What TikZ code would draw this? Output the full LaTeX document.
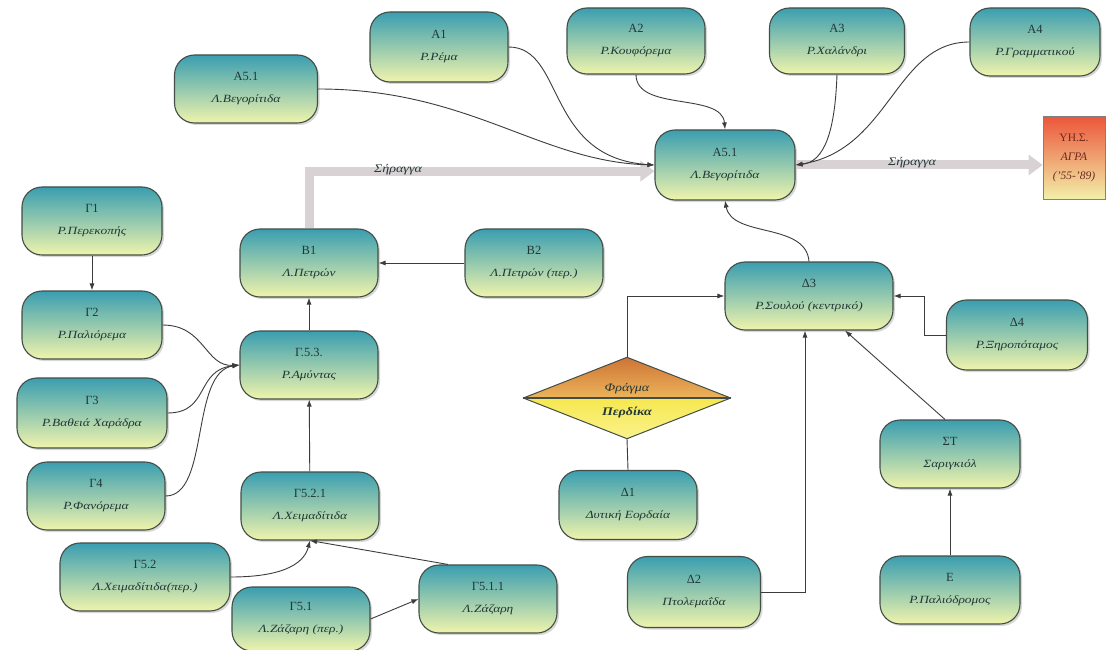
\documentclass[tikz,border=0pt]{standalone}
\usepackage{fontspec}
\setmainfont{Liberation Serif}
\newfontfamily\namefont[FakeStretch=1.22]{Liberation Serif}
\usetikzlibrary{arrows.meta,shapes.geometric,shadows,calc}
\definecolor{tealtop}{RGB}{58,158,176}
\definecolor{yelbot}{RGB}{240,244,172}
\definecolor{edge}{RGB}{66,78,70}
\definecolor{conn}{RGB}{60,60,60}
\definecolor{tunnel}{RGB}{216,210,212}
\definecolor{codec}{RGB}{34,56,54}
\definecolor{damtop}{RGB}{206,116,54}
\definecolor{dammid}{RGB}{236,180,90}
\definecolor{yeltop}{RGB}{246,232,80}
\definecolor{yelbot2}{RGB}{250,242,140}
\definecolor{redtop}{RGB}{236,86,58}
\definecolor{yhsbot}{RGB}{242,240,170}
\tikzset{
  box/.style={rounded corners=20pt, draw=edge, line width=1.1pt,
    top color=tealtop, bottom color=yelbot,
    minimum width=138pt, minimum height=68pt, inner sep=0pt, align=center,
    drop shadow={opacity=0.3, shadow xshift=2pt, shadow yshift=-2pt},
    font=\fontsize{12.5}{22}\selectfont, text=codec},
  link/.style={draw=conn, line width=0.9pt, -{Latex[length=7pt,width=5pt]}},
  plain/.style={draw=conn, line width=0.9pt},
  tunnelarrow/.style={draw=tunnel, line width=9pt, -{Triangle[length=14pt,width=20pt]}},
  tlabel/.style={font=\namefont\itshape\fontsize{11.5}{13}\selectfont, text=codec, inner sep=1pt},
  yhsbox/.style={rectangle, draw=gray, line width=0.8pt, top color=redtop, bottom color=yhsbot,
    minimum width=62pt, minimum height=83pt, inner sep=0pt, align=center,
    font=\fontsize{11.5}{19}\selectfont, text={rgb,255:red,110;green,40;blue,30}},
  damshape/.style={diamond, minimum width=207pt, minimum height=81pt, inner sep=0pt},
  damtext/.style={font=\namefont\itshape\fontsize{11.5}{13}\selectfont, text=codec, inner sep=0pt}
}
\newcommand{\lbl}[2]{#1\\{\namefont\itshape\fontsize{11}{13}\selectfont #2}}
\begin{document}
\begin{tikzpicture}[x=1pt,y=-1pt]
\useasboundingbox (0,0) rectangle (1117,650);
\fill[white] (0,0) rectangle (1117,650);

% tunnels (behind)
\node[box, minimum width=140pt, minimum height=70pt] (a51) at (725,165) {\lbl{Α5.1}{Λ.Βεγορίτιδα}};
\node[box] (b1) at (309,263) {\lbl{Β1}{Λ.Πετρών}};
\node[yhsbox] (yhs) at (1074,158) {ΥΗ.Σ.\\\textit{ΑΓΡΑ}\\\textit{('55-'89)}};
\draw[tunnelarrow] (b1.north) |- (a51.185);
\draw[tunnelarrow] (a51.east) -- (a51.east -| yhs.west);
\node[tlabel] (t1) at (398,170) {Σήραγγα};
\node[tlabel] (t2) at (912,163) {Σήραγγα};

% top row
\node[box, minimum width=143pt] (a51l) at (246,89) {\lbl{Α5.1}{Λ.Βεγορίτιδα}};
\node[box, minimum height=70pt] (a1) at (439,47) {\lbl{Α1}{Ρ.Ρέμα}};
\node[box, minimum height=66pt] (a2) at (636,41) {\lbl{Α2}{Ρ.Κουφόρεμα}};
\node[box, minimum width=135pt, minimum height=66pt] (a3) at (837,41) {\lbl{Α3}{Ρ.Χαλάνδρι}};
\node[box, minimum width=130pt] (a4) at (1035,42) {\lbl{Α4}{Ρ.Γραμματικού}};

% left column
\node[box, minimum width=140pt] (g1) at (92,221) {\lbl{Γ1}{Ρ.Περεκοπής}};
\node[box, minimum width=140pt] (g2) at (92,325) {\lbl{Γ2}{Ρ.Παλιόρεμα}};
\node[box, minimum width=150pt, minimum height=70pt] (g3) at (92,413) {\lbl{Γ3}{Ρ.Βαθειά Χαράδρα}};
\node[box] (g4) at (96,496) {\lbl{Γ4}{Ρ.Φανόρεμα}};

\node[box] (b2) at (534,263) {\lbl{Β2}{Λ.Πετρών (περ.)}};
\node[box] (g53) at (309,365) {\lbl{Γ.5.3.}{Ρ.Αμύντας}};
\node[box] (g521) at (310,506) {\lbl{Γ5.2.1}{Λ.Χειμαδίτιδα}};
\node[box, minimum width=170pt] (g52) at (145,577) {\lbl{Γ5.2}{Λ.Χειμαδίτιδα(περ.)}};
\node[box, minimum height=64pt] (g51) at (301,619) {\lbl{Γ5.1}{Λ.Ζάζαρη (περ.)}};
\node[box] (g511) at (488,599) {\lbl{Γ5.1.1}{Λ.Ζάζαρη}};

% right part
\node[box, minimum width=168pt] (d3) at (809,296) {\lbl{Δ3}{Ρ.Σουλού (κεντρικό)}};
\node[box, minimum width=141pt, minimum height=70pt] (d4) at (1017,335) {\lbl{Δ4}{Ρ.Ξηροπόταμος}};
\node[box, minimum height=69pt] (d1) at (628,505) {\lbl{Δ1}{Δυτική Εορδαία}};
\node[box, minimum width=133pt, minimum height=71pt] (d2) at (694,592) {\lbl{Δ2}{Πτολεμαΐδα}};
\node[box, minimum width=140pt] (st) at (950,454) {\lbl{ΣΤ}{Σαριγκιόλ}};
\node[box, minimum width=140pt] (e) at (950,590) {\lbl{Ε}{Ρ.Παλιόδρομος}};

% dam diamond
\node[damshape] (dam) at (627,398) {};
\shade[top color=damtop, bottom color=dammid] (dam.west) -- (dam.north) -- (dam.east) -- cycle;
\shade[top color=yeltop, bottom color=yelbot2] (dam.west) -- (dam.south) -- (dam.east) -- cycle;
\draw[edge, line width=1pt, line join=round] (dam.north) -- (dam.east) -- (dam.south) -- (dam.west) -- cycle;
\draw[edge, line width=1.2pt] (dam.west) -- (dam.east);
\node[damtext] (damt1) at (627,389) {Φράγμα};
\node[damtext, font=\namefont\bfseries\itshape\fontsize{11.5}{13}\selectfont] (damt2) at (627,412) {Περδίκα};

% connectors into A5.1
\draw[link] (a51l.east) .. controls (470,89) and (540,162) .. (a51.west);
\draw[link] (a1.east) .. controls (565,47) and (545,158) .. (a51.west);
\draw[link] (a2.south) .. controls (636,112) and (722,92) .. (a51.north);
\draw[link] (a3.south) .. controls (835,130) and (825,162) .. (a51.east);
\draw[link] (a4.west) .. controls (895,42) and (890,150) .. (a51.east);
\draw[link] (d3.north) .. controls (806,222) and (732,238) .. (a51.south);

% left part
\draw[link] (g1) -- (g2);
\draw[link] (g2.east) .. controls (205,325) and (205,367) .. (g53.west);
\draw[link] (g3.east) .. controls (210,413) and (195,370) .. (g53.west);
\draw[link] (g4.east) .. controls (210,496) and (190,372) .. (g53.west);
\draw[link] (g53) -- (b1);
\draw[link] (b2) -- (b1);
\draw[link] (g521) -- (g53);
\draw[link] (g52.east) .. controls (290,577) and (305,560) .. (g521.south);
\draw[link] ($(g511.north)+(-40,0)$) -- (g521.south);
\draw[link] (g51.east) -- (g511.west);

% right part connectors
\draw[link] (dam.north) |- (d3.west);
\draw[plain] (d1.north) -- (dam.south);
\draw[link] (d2.east) -| ($(d3.south)+(-4,0)$);
\draw[link] ($(st.north)+(-5,0)$) -- ($(d3.south)+(36,0)$);
\draw[link] (e) -- (st);
\draw[link] (d4.west) -- ++(-22,0) |- (d3.east);
\end{tikzpicture}
\end{document}
